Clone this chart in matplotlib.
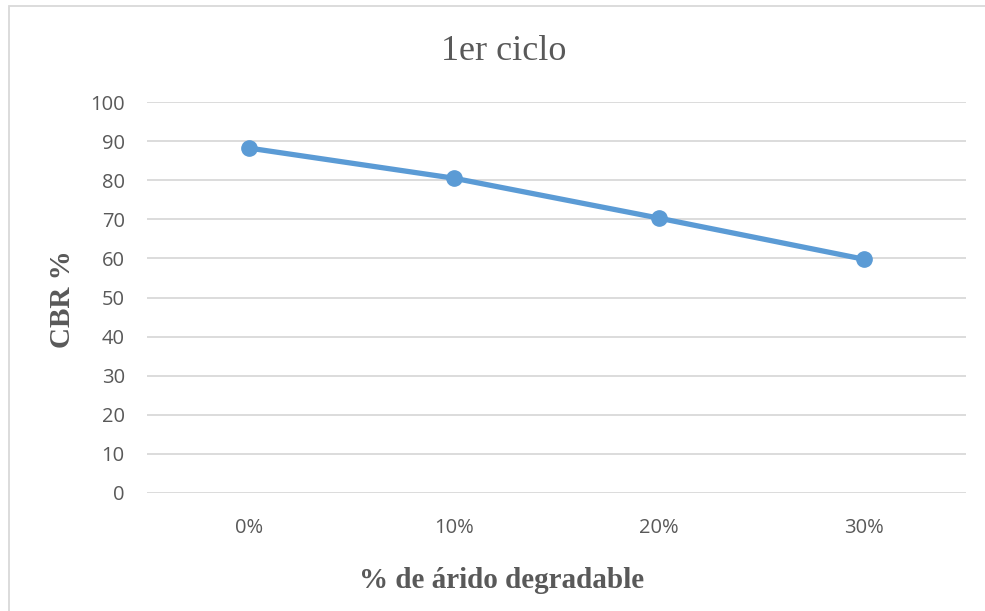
import matplotlib
matplotlib.use('Agg')
import matplotlib.pyplot as plt
from matplotlib.patches import Rectangle

categories = ['0%', '10%', '20%', '30%']
cbr = [88.2, 80.5, 70.3, 59.8]
y_ticks = [0, 10, 20, 30, 40, 50, 60, 70, 80, 90, 100]

line_color = '#5B9BD5'
grid_color = '#D9D9D9'
text_color = '#595959'

fig = plt.figure(figsize=(9.85, 6.11), dpi=100)
W, H = 985, 611
ax = fig.add_axes([147 / W, 1 - 493 / H, (966 - 147) / W, (493 - 102) / H])

x = list(range(len(categories)))
ax.plot(x, cbr, color=line_color, lw=3.8, marker='o', markersize=11,
        solid_capstyle='round', zorder=3)

ax.set_xlim(-0.5, len(categories) - 0.5)
ax.set_ylim(0, 100)
ax.set_yticks(y_ticks)
ax.set_xticks(x)
ax.set_xticklabels(categories)
ax.yaxis.grid(True, color=grid_color, lw=1.3)
ax.set_axisbelow(True)
for s in ax.spines.values():
    s.set_visible(False)
ax.tick_params(length=0, labelsize=14.5, labelcolor=text_color)
ax.tick_params(axis='y', pad=16)
ax.tick_params(axis='x', pad=18)
for lab in ax.get_xticklabels() + ax.get_yticklabels():
    lab.set_family('Open Sans')

# chart frame
fig.patches.append(Rectangle((9 / W, -0.05), 1.2, 1 - 6 / H + 0.05,
                             transform=fig.transFigure, fill=False,
                             edgecolor='#D9D9D9', lw=1.3))

fig.text(504 / W, 1 - 51 / H, '1er ciclo', ha='center', va='center',
         family='Liberation Serif', fontsize=26, color=text_color)
fig.text(502 / W, 1 - 580 / H, '% de árido degradable', ha='center', va='center',
         family='Liberation Serif', fontsize=21, fontweight='bold', color=text_color)
fig.text(63 / W, 1 - 299 / H, 'CBR %', ha='center', va='center', rotation=90,
         family='Liberation Serif', fontsize=21, fontweight='bold', color=text_color)

fig.savefig('out.png', dpi=100)
